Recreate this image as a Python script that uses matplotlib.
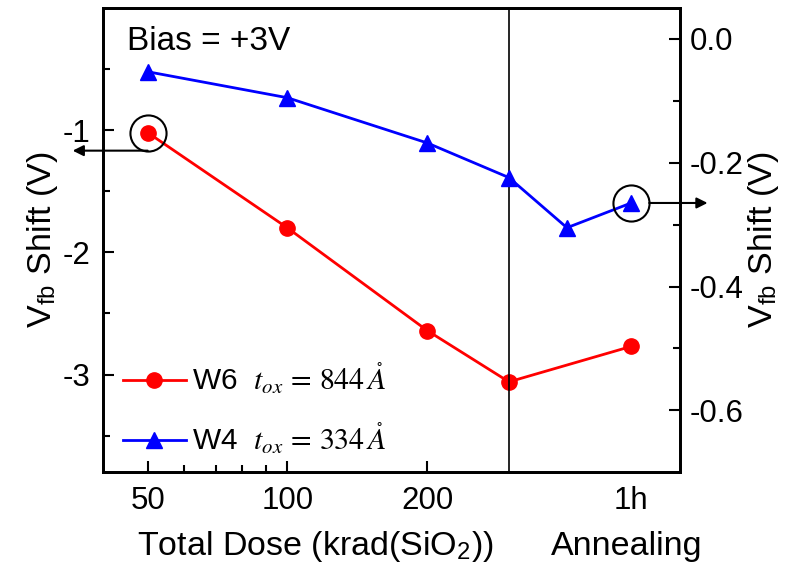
import matplotlib
matplotlib.use('Agg')
import matplotlib.pyplot as plt
from matplotlib.transforms import offset_copy

plt.rcParams['font.family'] = ['Liberation Sans', 'DejaVu Sans']
plt.rcParams['mathtext.fontset'] = 'stix'
plt.rcParams['axes.unicode_minus'] = False

# data
dose = [50, 100, 200, 300]
anneal_x = [400, 550]          # plotting positions of the annealing steps
w6_dose = [-1.02, -1.80, -2.64, -3.06]
w6_anneal = [-2.77]
w4_dose = [-0.053, -0.095, -0.168, -0.224]
w4_anneal = [-0.305, -0.265]

w6_x = dose + anneal_x[1:]
w6_y = w6_dose + w6_anneal
w4_x = dose + anneal_x
w4_y = w4_dose + w4_anneal

fig = plt.figure(figsize=(7.96, 5.69), dpi=100)
ax = fig.add_axes([0.129, 0.170, 0.725, 0.816])
ax2 = ax.twinx()

l1, = ax.plot(w6_x, w6_y, '-o', color='red', lw=2, ms=11,
              label='W6  $t_{ox}\\,=\\,844\\,\\mathring{A}$')
l2, = ax2.plot(w4_x, w4_y, '-^', color='blue', lw=2, ms=12,
               label='W4  $t_{ox}\\,=\\,334\\,\\mathring{A}$')

ax.set_xscale('log')
ax.set_xlim(40, 700)
ax.set_ylim(-3.8, 0)
ax2.set_ylim(-0.7, 0.05)

ax.axvline(300, color='black', lw=1.2)

# circles + arrows
ax.plot([w6_x[0]], [w6_y[0]], 'o', mfc='none', mec='black', ms=26, mew=1.5)
ax2.plot([w4_x[-1]], [w4_y[-1]], 'o', mfc='none', mec='black', ms=26, mew=1.5)

tr = offset_copy(ax.transData, fig=fig, x=0, y=-13, units='points')
ax.annotate('', xy=(w6_x[0], w6_y[0]), xycoords=tr, xytext=(-54, 0), textcoords='offset points',
            arrowprops=dict(arrowstyle='<|-', color='black', lw=1.5, shrinkA=0, shrinkB=0, mutation_scale=16),
            annotation_clip=False)
tr2 = offset_copy(ax2.transData, fig=fig, x=13, y=0, units='points')
ax2.annotate('', xy=(w4_x[-1], w4_y[-1]), xycoords=tr2, xytext=(42, 0), textcoords='offset points',
             arrowprops=dict(arrowstyle='<|-', color='black', lw=1.5, shrinkA=0, shrinkB=0, mutation_scale=16),
             annotation_clip=False)

# ticks
ax.set_yticks([-3, -2, -1])
ax.set_yticklabels(['-3', '-2', '-1'])
ax.set_yticks([-3.5, -2.5, -1.5, -0.5], minor=True)
ax2.set_yticks([-0.6, -0.4, -0.2, 0.0])
ax2.set_yticklabels(['-0.6', '-0.4', '-0.2', '0.0'])
ax2.set_yticks([-0.5, -0.3, -0.1], minor=True)

ax.set_xticks([50, 100, 200, anneal_x[1]])
ax.set_xticklabels(['50', '100', '200', '1h'])
ax.set_xticks([60, 70, 80, 90], minor=True)
ax.xaxis.set_minor_formatter(plt.NullFormatter())
ax.xaxis.get_major_ticks()[3].tick1line.set_visible(False)

for a in (ax, ax2):
    a.tick_params(which='both', direction='in', labelsize=22.5, width=1.5)
    a.tick_params(which='major', length=8)
    a.tick_params(which='minor', length=5)
    for s in a.spines.values():
        s.set_linewidth(2)
ax.tick_params(axis='x', pad=10)
ax.tick_params(axis='y', pad=9)
ax2.tick_params(axis='y', pad=7)

ax.set_ylabel('V$_{\\mathregular{fb}}$ Shift (V)', fontsize=24.5, labelpad=2)
ax2.set_ylabel('V$_{\\mathregular{fb}}$ Shift (V)', fontsize=24.5, labelpad=2)

fig.text(316 / 796, 1 - 555 / 569, 'Total Dose (krad(SiO$_{\\mathregular{2}}$))', fontsize=24.5,
         ha='center', va='baseline')
fig.text(627 / 796, 1 - 555 / 569, 'Annealing', fontsize=24.5, ha='center', va='baseline')

ax.text(0.042, 0.909, 'Bias = +3V', transform=ax.transAxes, fontsize=24, va='baseline')

ax.legend(handles=[l1, l2], loc='lower left', bbox_to_anchor=(0.035, 0.035), frameon=False,
          fontsize=21.5, handlelength=2.1, handletextpad=0.2, labelspacing=0.8,
          borderpad=0, borderaxespad=0)

fig.savefig('out.png', dpi=100)
